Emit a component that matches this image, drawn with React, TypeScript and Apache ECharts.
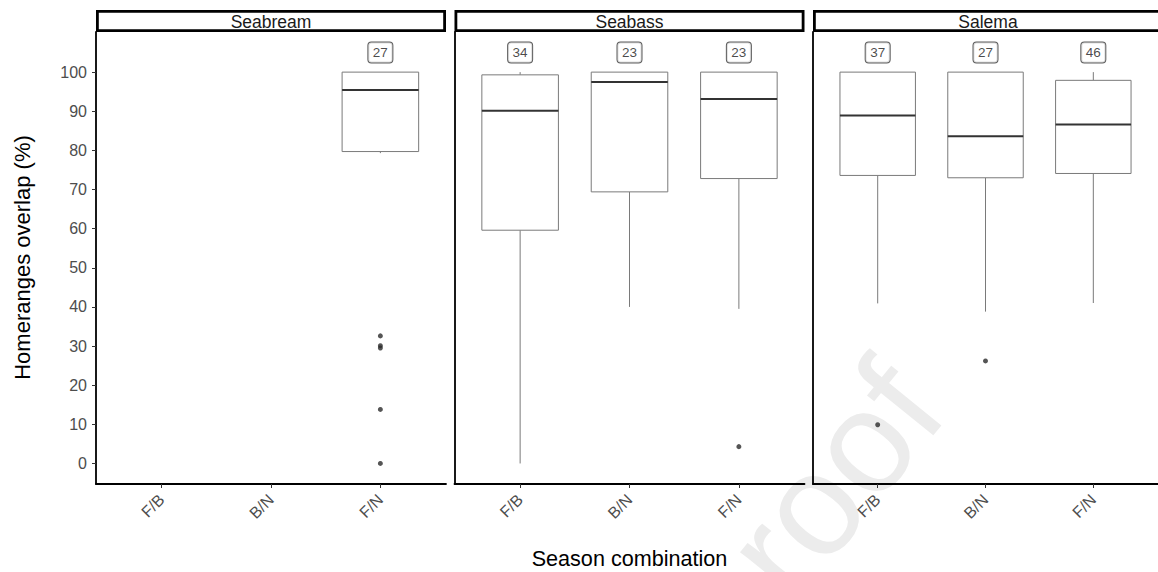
import React, { useEffect, useRef } from "react";
import * as echarts from "echarts";

// Facets and season combinations
const species = ["Seabream", "Seabass", "Salema"];
const combos = ["F/B", "B/N", "F/N"];

// Box statistics per combination: [lower whisker, Q1, median, Q3, upper whisker]
const seabreamBoxes = [null, null, [79.3, 79.7, 95.4, 100, 100]];
const seabassBoxes = [
  [0, 59.6, 90.1, 99.3, 100],
  [40, 69.4, 97.5, 100, 100],
  [39.5, 72.8, 93.1, 100, 100],
];
const salemaBoxes = [
  [40.9, 73.6, 88.9, 100, 100],
  [38.8, 73.0, 83.6, 100, 100],
  [41, 74.1, 86.6, 97.9, 100],
];

// Outliers: [combination index, value]
const seabreamOutliers = [[2, 32.6], [2, 30.1], [2, 29.5], [2, 13.8], [2, 0]];
const seabassOutliers = [[2, 4.3]];
const salemaOutliers = [[0, 9.9], [1, 26.2]];

// Sample sizes shown above each box
const seabreamCounts = [null, null, 27];
const seabassCounts = [34, 23, 23];
const salemaCounts = [37, 27, 46];
const countLevel = 105;

const yTicks = [0, 10, 20, 30, 40, 50, 60, 70, 80, 90, 100];
const yMin = -5.25;
const yMax = 110.25;

const boxesBySpecies = [seabreamBoxes, seabassBoxes, salemaBoxes];
const outliersBySpecies = [seabreamOutliers, seabassOutliers, salemaOutliers];
const countsBySpecies = [seabreamCounts, seabassCounts, salemaCounts];

// Panel layout (pixels)
const panelLefts = [96, 454.5, 813];
const panelWidth = 350;
const panelTop = 32;
const panelHeight = 452;
const stripTop = 10;
const stripHeight = 22;

const FONT = "'Liberation Sans', Arial, Helvetica, sans-serif";

function buildOption() {
  const grid = panelLefts.map((left) => ({
    left,
    top: panelTop,
    width: panelWidth,
    height: panelHeight,
    containLabel: false,
  }));

  const xAxis = species.map((_, i) => ({
    type: "value",
    gridIndex: i,
    min: 0.4,
    max: 3.6,
    axisLine: { show: true, onZero: false, lineStyle: { color: "#000", width: 1.8 } },
    axisTick: {
      show: true,
      customValues: [1, 2, 3],
      length: 4,
      lineStyle: { color: "#333", width: 1 },
    },
    axisLabel: {
      show: true,
      customValues: [1, 2, 3],
      formatter: (v: number) => combos[Math.round(v) - 1] ?? "",
      rotate: 45,
      margin: 13,
      fontSize: 16,
      fontFamily: FONT,
      color: "#4d4d4d",
    },
    splitLine: { show: false },
  }));

  const yAxis = species.map((_, i) => ({
    type: "value",
    gridIndex: i,
    min: yMin,
    max: yMax,
    axisLine: { show: true, onZero: false, lineStyle: { color: "#000", width: 1.8 } },
    axisTick: {
      show: i === 0,
      customValues: yTicks,
      length: 4,
      lineStyle: { color: "#333", width: 1 },
    },
    axisLabel: {
      show: i === 0,
      customValues: yTicks,
      margin: 9,
      fontSize: 16,
      fontFamily: FONT,
      color: "#4d4d4d",
    },
    splitLine: { show: false },
  }));

  const series: any[] = [];
  species.forEach((_, i) => {
    const boxData = boxesBySpecies[i]
      .map((b, k) => (b ? [k + 1, ...b] : null))
      .filter((d) => d !== null);
    series.push({
      type: "custom",
      xAxisIndex: i,
      yAxisIndex: i,
      encode: { x: 0, y: [1, 2, 3, 4, 5] },
      data: boxData,
      z: 3,
      renderItem: (_params: any, api: any) => {
        const x = api.value(0);
        const [cx, yLo] = api.coord([x, api.value(1)]);
        const yQ1 = api.coord([x, api.value(2)])[1];
        const yMed = api.coord([x, api.value(3)])[1];
        const yQ3 = api.coord([x, api.value(4)])[1];
        const yHi = api.coord([x, api.value(5)])[1];
        const half = api.size([0.7, 0])[0] / 2;
        const lineStyle = { stroke: "#7a7a7a", lineWidth: 1 };
        return {
          type: "group",
          children: [
            { type: "line", shape: { x1: cx, y1: yLo, x2: cx, y2: yQ1 }, style: lineStyle },
            { type: "line", shape: { x1: cx, y1: yQ3, x2: cx, y2: yHi }, style: lineStyle },
            {
              type: "rect",
              shape: { x: cx - half, y: yQ3, width: half * 2, height: yQ1 - yQ3 },
              style: { fill: "#ffffff", stroke: "#7a7a7a", lineWidth: 1 },
            },
            {
              type: "line",
              shape: { x1: cx - half, y1: yMed, x2: cx + half, y2: yMed },
              style: { stroke: "#333333", lineWidth: 2 },
            },
          ],
        };
      },
    });

    series.push({
      type: "scatter",
      xAxisIndex: i,
      yAxisIndex: i,
      symbol: "circle",
      symbolSize: 5,
      itemStyle: { color: "#2b2b2b" },
      data: outliersBySpecies[i].map(([k, v]) => [k + 1, v]),
      z: 4,
    });

    series.push({
      type: "scatter",
      xAxisIndex: i,
      yAxisIndex: i,
      symbol: "circle",
      symbolSize: 1,
      itemStyle: { color: "rgba(0,0,0,0)" },
      data: countsBySpecies[i]
        .map((n, k) => (n === null ? null : [k + 1, countLevel, n]))
        .filter((d) => d !== null),
      label: {
        show: true,
        position: "inside",
        formatter: (p: any) => String(p.value[2]),
        fontSize: 13.5,
        lineHeight: 14,
        fontFamily: FONT,
        color: "#1a1a1a",
        backgroundColor: "#ffffff",
        borderColor: "#333333",
        borderWidth: 1,
        borderRadius: 3,
        padding: [3, 4.5, 3, 4.5],
      },
      z: 5,
    });
  });

  const graphic: any[] = [
    {
      type: "text",
      x: 968,
      y: 428,
      rotation: (51 * Math.PI) / 180,
      silent: true,
      z: -10,
      style: {
        text: "proof",
        fontSize: 145,
        fontFamily: FONT,
        fill: "#ececec",
        textAlign: "right",
        textVerticalAlign: "bottom",
      },
    },
  ];

  species.forEach((name, i) => {
    graphic.push({
      type: "rect",
      shape: {
        x: panelLefts[i] + 1.4,
        y: stripTop + 1.4,
        width: panelWidth - 2.8,
        height: stripHeight - 2.8,
      },
      style: { fill: "#ffffff", stroke: "#000000", lineWidth: 2.8 },
      z: 10,
    });
    graphic.push({
      type: "text",
      x: panelLefts[i] + panelWidth / 2,
      y: stripTop + stripHeight / 2 + 0.5,
      style: {
        text: name,
        fontSize: 17.5,
        fontFamily: FONT,
        fill: "#1a1a1a",
        textAlign: "center",
        textVerticalAlign: "middle",
      },
      z: 11,
    });
  });

  graphic.push({
    type: "text",
    x: 22,
    y: panelTop + panelHeight / 2 - 0.5,
    rotation: Math.PI / 2,
    style: {
      text: "Homeranges overlap (%)",
      fontSize: 22,
      fontFamily: FONT,
      fill: "#000000",
      textAlign: "center",
      textVerticalAlign: "middle",
    },
  });

  graphic.push({
    type: "text",
    x: (panelLefts[0] + panelLefts[2] + panelWidth) / 2,
    y: 558.5,
    style: {
      text: "Season combination",
      fontSize: 21.6,
      fontFamily: FONT,
      fill: "#000000",
      textAlign: "center",
      textVerticalAlign: "middle",
    },
  });

  return {
    animation: false,
    backgroundColor: "#ffffff",
    grid,
    xAxis,
    yAxis,
    series,
    graphic,
  };
}

export default function App() {
  const ref = useRef<HTMLDivElement | null>(null);

  useEffect(() => {
    document.body.style.margin = "0";
    if (!ref.current) return;
    const chart = echarts.init(ref.current, null, { renderer: "svg" });
    chart.setOption(buildOption() as any);
    return () => {
      chart.dispose();
    };
  }, []);

  return <div ref={ref} style={{ width: 1158, height: 572 }} />;
}
